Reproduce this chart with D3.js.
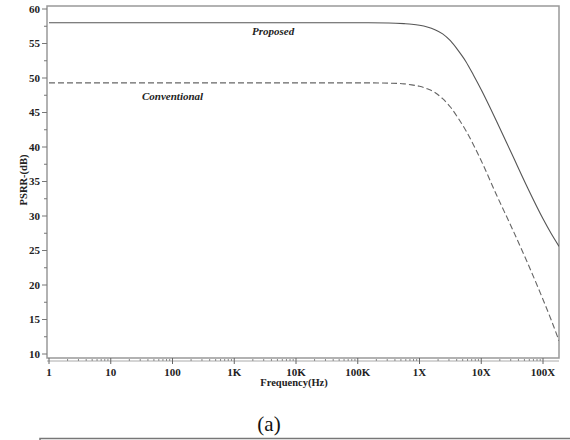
<!DOCTYPE html>
<html><head><meta charset="utf-8">
<script src="https://cdn.jsdelivr.net/npm/d3@7"></script>
<style>body{margin:0;background:#fff}svg{display:block}</style>
</head><body>
<svg id="c" width="570" height="440"></svg>
<script>
// Data (log10 of frequency in Hz, PSRR in dB)
const freqExp = [0, 1, 2, 3, 4, 5, 5.5, 5.75, 5.875, 6, 6.125, 6.25, 6.375, 6.5, 6.625, 6.75, 6.875, 7, 7.25, 7.5, 7.75, 8, 8.13, 8.26];
const proposed = [58, 58, 58, 58, 58, 58, 57.97, 57.88, 57.8, 57.65, 57.4, 57.0, 56.4, 55.4, 54.0, 52.4, 50.4, 48.3, 43.7, 38.9, 34.1, 29.6, 27.5, 25.6];
const conventional = [49.3, 49.3, 49.3, 49.3, 49.3, 49.3, 49.25, 49.15, 49.0, 48.8, 48.45, 47.9, 47.0, 45.8, 44.2, 42.4, 40.3, 38.0, 33.0, 28.2, 23.2, 17.9, 15.0, 11.9];
const xTickValues = [1, 10, 100, 1e3, 1e4, 1e5, 1e6, 1e7, 1e8];
const xTickLabels = ["1", "10", "100", "1K", "10K", "100K", "1X", "10X", "100X"];
const yTickValues = [10, 15, 20, 25, 30, 35, 40, 45, 50, 55, 60];

const svg = d3.select("#c");
const box = {l: 47, t: 6, r: 559, b: 358};
const x = d3.scaleLog().domain([1, 1e8]).range([49, 543]);
const y = d3.scaleLinear().domain([10, 60]).range([354, 9]);
const serif = "'Liberation Serif','Times New Roman',serif";

svg.append("clipPath").attr("id", "clip").append("rect")
  .attr("x", box.l).attr("y", box.t).attr("width", box.r - box.l).attr("height", box.b - box.t);

// frame
svg.append("rect").attr("x", box.l).attr("y", box.t).attr("width", box.r - box.l).attr("height", box.b - box.t)
  .attr("fill", "none").attr("stroke", "#999").attr("stroke-width", 1.5);

// Y axis ticks (left)
const yMinor = d3.range(10, 60.1, 2.5);
svg.append("g").selectAll("line").data(yMinor).join("line")
  .attr("x1", d => (d % 5 === 0 ? 42 : 44)).attr("x2", box.l)
  .attr("y1", d => y(d)).attr("y2", d => y(d))
  .attr("stroke", "#777").attr("stroke-width", 1);
svg.append("g").selectAll("text").data(yTickValues).join("text")
  .attr("x", 40).attr("y", d => y(d)).attr("dy", "0.35em")
  .attr("text-anchor", "end").attr("font-family", serif).attr("font-weight", "bold")
  .attr("font-size", 11).attr("fill", "#222").text(d => d);

// X axis (separate line below frame)
const xAxisY = 361;
svg.append("line").attr("x1", box.l).attr("x2", box.r).attr("y1", xAxisY).attr("y2", xAxisY)
  .attr("stroke", "#aaa").attr("stroke-width", 1);
const xMinor = [];
for (let e = 0; e < 9; e++) for (let m = 2; m <= 9; m++) { const v = m * Math.pow(10, e); if (x(v) <= box.r) xMinor.push(v); }
svg.append("g").selectAll("line").data(xMinor).join("line")
  .attr("x1", d => x(d)).attr("x2", d => x(d)).attr("y1", xAxisY - 2).attr("y2", xAxisY)
  .attr("stroke", "#888").attr("stroke-width", 1);
svg.append("g").selectAll("line").data(xTickValues).join("line")
  .attr("x1", d => x(d)).attr("x2", d => x(d)).attr("y1", xAxisY - 3).attr("y2", xAxisY + 3)
  .attr("stroke", "#666").attr("stroke-width", 1);
svg.append("g").selectAll("text").data(xTickValues).join("text")
  .attr("x", d => x(d)).attr("y", 376).attr("text-anchor", "middle")
  .attr("font-family", serif).attr("font-weight", "bold").attr("font-size", 11).attr("fill", "#222")
  .text((d, i) => xTickLabels[i]);

// axis titles
svg.append("text").attr("x", 294).attr("y", 386).attr("text-anchor", "middle")
  .attr("font-family", serif).attr("font-weight", "bold").attr("font-size", 10.5).attr("fill", "#222")
  .text("Frequency(Hz)");
svg.append("text").attr("transform", "translate(27,180) rotate(-90)").attr("text-anchor", "middle")
  .attr("font-family", serif).attr("font-weight", "bold").attr("font-size", 10.5).attr("fill", "#222")
  .text("PSRR-(dB)");

// curves
const line = d3.line().x(d => x(Math.pow(10, d[0]))).y(d => y(d[1])).curve(d3.curveMonotoneX);
const g = svg.append("g").attr("clip-path", "url(#clip)");
g.append("path").datum(freqExp.map((f, i) => [f, proposed[i]])).attr("d", line)
  .attr("fill", "none").attr("stroke", "#555").attr("stroke-width", 1.1);
g.append("path").datum(freqExp.map((f, i) => [f, conventional[i]])).attr("d", line)
  .attr("fill", "none").attr("stroke", "#666").attr("stroke-width", 1.1).attr("stroke-dasharray", "6,3");

// curve labels
svg.append("text").attr("x", 252).attr("y", 35).attr("font-family", serif).attr("font-weight", "bold")
  .attr("font-style", "italic").attr("font-size", 11).attr("fill", "#222").text("Proposed");
svg.append("text").attr("x", 142).attr("y", 100).attr("font-family", serif).attr("font-weight", "bold")
  .attr("font-style", "italic").attr("font-size", 11).attr("fill", "#222").text("Conventional");

// caption and bottom rule
svg.append("text").attr("x", 269).attr("y", 431).attr("text-anchor", "middle")
  .attr("font-family", serif).attr("font-size", 21).attr("fill", "#111").text("(a)");
svg.append("path").attr("d", "M40,441V438.5H570").attr("fill", "none").attr("stroke", "#777").attr("stroke-width", 1.5);
</script>
</body></html>
